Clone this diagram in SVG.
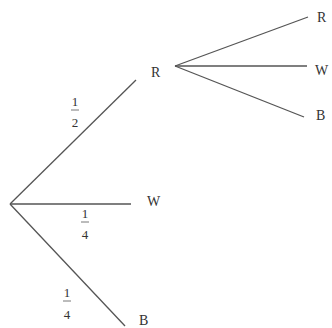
<svg xmlns="http://www.w3.org/2000/svg" width="332" height="328" viewBox="0 0 332 328">
<style>
.e{stroke:#555;stroke-width:1.3;fill:none}
text{font-family:"Liberation Serif","Times New Roman",serif;font-size:14px;fill:#333}
.f{font-size:13px;text-anchor:middle}
.bar{stroke:#555;stroke-width:0.8}
</style>
<rect width="332" height="328" fill="#fff"/>
<g id="connectors">
<line class="e" x1="10" y1="204" x2="136" y2="80"/>
<line class="e" x1="10" y1="204" x2="131" y2="204"/>
<line class="e" x1="10" y1="204" x2="125" y2="326"/>
<line class="e" x1="175" y1="66" x2="308" y2="17"/>
<line class="e" x1="175" y1="66" x2="307" y2="66"/>
<line class="e" x1="175" y1="66" x2="304" y2="117"/>
</g>
<g id="n-R1"><text x="151" y="77">R</text></g>
<g id="n-W1"><text x="147" y="206">W</text></g>
<g id="n-B1"><text x="139" y="325">B</text></g>
<g id="n-R2"><text x="317" y="22">R</text></g>
<g id="n-W2"><text x="315" y="75">W</text></g>
<g id="n-B2"><text x="316" y="120">B</text></g>
<g id="p-half"><text class="f" x="75" y="106">1</text><line class="bar" x1="71" y1="110" x2="79" y2="110"/><text class="f" x="75" y="127">2</text></g>
<g id="p-quarter1"><text class="f" x="85" y="218">1</text><line class="bar" x1="81" y1="222" x2="89" y2="222"/><text class="f" x="85" y="239">4</text></g>
<g id="p-quarter2"><text class="f" x="67" y="297">1</text><line class="bar" x1="63" y1="301" x2="71" y2="301"/><text class="f" x="67" y="319">4</text></g>
</svg>
